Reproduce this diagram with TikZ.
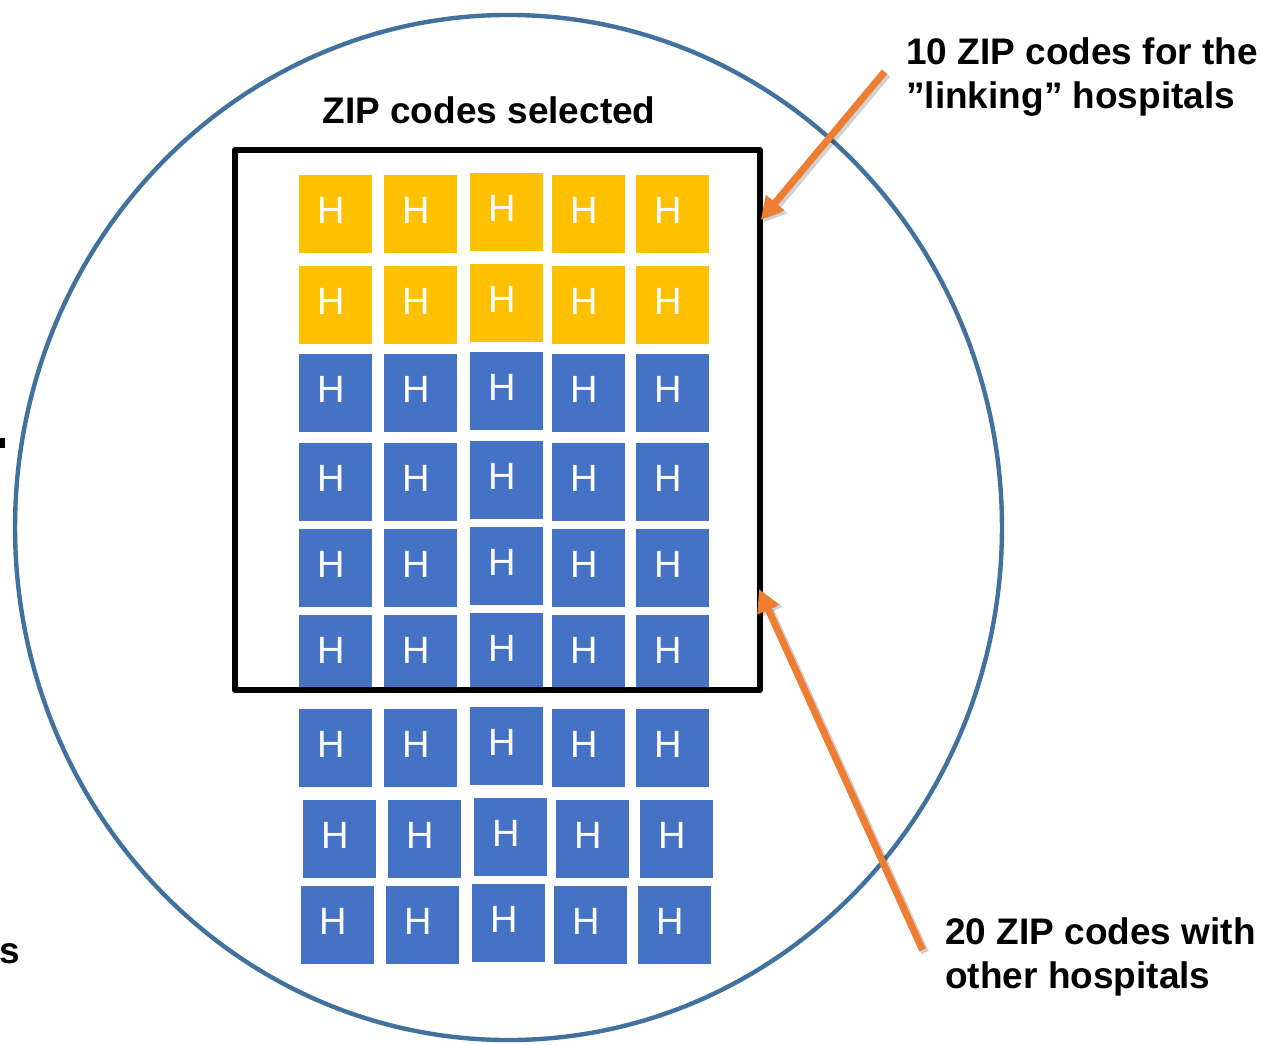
\documentclass[tikz,border=0pt]{standalone}
\usepackage{fontspec}
\setmainfont{Liberation Sans}
\usetikzlibrary{arrows.meta}
\definecolor{zipY}{HTML}{FFC000}
\definecolor{zipB}{HTML}{4472C4}
\definecolor{ringC}{HTML}{41719C}
\definecolor{arrC}{HTML}{ED7D31}
\begin{document}
\begin{tikzpicture}[x=0.75pt,y=-0.75pt,
  tile/.style={rectangle, minimum width=54.75pt, minimum height=58.5pt, inner sep=0pt, draw=none},
  htext/.style={text=white, inner sep=0pt, font=\fontsize{28.5}{33}\selectfont},
  lbl/.style={inner sep=0pt, font=\fontsize{27.75}{33}\selectfont\bfseries},
  ring/.style={draw=ringC, line width=3.3pt},
  selbox/.style={draw=black, line width=4.2pt, line join=round},
  pointer/.style={draw=arrC, line width=5.25pt, -{Triangle[length=17pt,width=17pt]}},
  pshadow/.style={draw=black, opacity=0.18, line width=6pt, -{Triangle[length=17pt,width=18pt]}}
]
\useasboundingbox (0,0) rectangle (1281,1045);
% outer circle
\draw[ring] (508.5,527.5) ellipse [x radius=370.1pt, y radius=384.4pt];
% clipped fragments at left edge
\fill[black] (0,438) rectangle (5.3,448);
\node[lbl, anchor=base west] (frag) at (-1,963) {s};
% title
\node[lbl, anchor=base] (title) at (489,124) {ZIP codes selected};
% tiles
\foreach \r/\yt/\dx/\cl in {1/175/0/zipY, 2/266/0/zipY, 3/354/0/zipB, 4/443/0/zipB, 5/529/0/zipB, 6/615/0/zipB, 7/709/0/zipB, 8/800/4/zipB, 9/886/2/zipB}{
  \foreach \c/\xl/\dy in {1/299/0, 2/384/0, 3/470/-2, 4/552/0, 5/636/0}{
    \pgfmathsetmacro\cx{\xl+\dx+36.5}
    \pgfmathsetmacro\cy{\yt+\dy+39}
    \node[tile, fill=\cl] (t-\r-\c) at (\cx,\cy) {};
    \node[htext] (h-\r-\c) at (\cx-4,\cy-4) {H};
  }
}
% selection box
\draw[selbox] (235,150) rectangle (760,690);
% labels
\node[lbl, anchor=base west] (lab1) at (906,65) {\begin{tabular}[t]{@{}l@{}}10 ZIP codes for the\\”linking” hospitals\end{tabular}};
\node[lbl, anchor=base west] (lab2) at (945,944) {\begin{tabular}[t]{@{}l@{}}20 ZIP codes with\\other hospitals\end{tabular}};
% arrows
\coordinate (a1s) at (884.6,71.7);
\coordinate (a1e) at (760.7,220);
\coordinate (a2s) at (922.5,950);
\coordinate (a2e) at (759,589);
\draw[pshadow] ([shift={(2.5,2.5)}]a1s) -- ([shift={(2.5,2.5)}]a1e);
\draw[pshadow] ([shift={(2.5,2.5)}]a2s) -- ([shift={(2.5,2.5)}]a2e);
\draw[pointer] (a1s) -- (a1e);
\draw[pointer] (a2s) -- (a2e);
\end{tikzpicture}
\end{document}
